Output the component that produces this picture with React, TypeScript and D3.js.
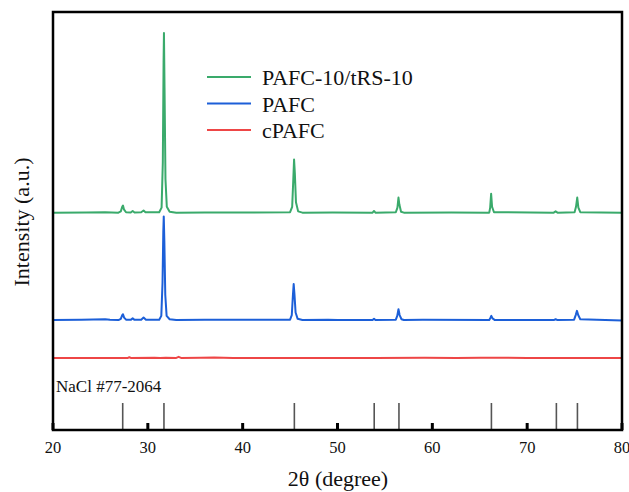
import React from "react";
import * as d3 from "d3";

// XRD patterns, [2theta, intensity above own baseline]
const greenPts: [number, number][] = [
  [20, 0], [23.5, 0.5], [25.5, 0.8], [26.9, 0], [27.15, 3], [27.3, 14], [27.38, 17], [27.48, 8], [27.7, 1],
  [28.2, 0.5], [28.4, 4], [28.6, 0.5], [29.3, 1], [29.55, 5], [29.75, 1], [31.2, 1], [31.45, 12],
  [31.58, 120], [31.66, 360], [31.7, 430], [31.76, 300], [31.86, 80], [32.0, 14], [32.3, 2], [33, 0],
  [36, 0.5], [41, 0.5], [45.0, 1], [45.22, 14], [45.34, 80], [45.42, 127], [45.5, 95], [45.62, 25],
  [45.85, 3], [46.3, 0], [49.5, 0.5], [53.7, 0], [53.85, 4], [54.0, 0], [56.15, 1], [56.32, 12],
  [56.43, 36], [56.52, 20], [56.7, 2], [57, 0], [62, 0.3], [66.0, 0], [66.1, 12], [66.2, 45],
  [66.3, 14], [66.5, 1], [72.8, 0], [73.0, 3], [73.2, 0], [75.0, 1], [75.15, 14], [75.28, 36],
  [75.4, 12], [75.6, 1], [80, 0],
];

const bluePts: [number, number][] = [
  [20, 0], [23, 0.5], [25.5, 2], [26, 0.5], [26.9, 0], [27.15, 3], [27.3, 12], [27.38, 14], [27.5, 6],
  [27.7, 1], [28.2, 0.5], [28.4, 4], [28.6, 0.5], [29.3, 1], [29.55, 6], [29.8, 1], [31.2, 1],
  [31.42, 10], [31.55, 90], [31.63, 210], [31.68, 248], [31.74, 190], [31.84, 60], [31.98, 10],
  [32.3, 2], [33, 0], [36, 0.5], [45.0, 1], [45.18, 12], [45.3, 60], [45.38, 86], [45.46, 62],
  [45.58, 18], [45.8, 3], [46.3, 0], [49, 1], [50, 0], [53.7, 0], [53.85, 3], [54.0, 0],
  [56.15, 1], [56.3, 10], [56.43, 26], [56.55, 12], [56.75, 2], [57, 0], [59, 0.5], [66.0, 0],
  [66.12, 5], [66.22, 10], [66.35, 4], [66.6, 0], [72.8, 0], [73.0, 2], [73.2, 0], [74.95, 1],
  [75.12, 12], [75.25, 22], [75.38, 12], [75.6, 2], [80, -1],
];

const redPts: [number, number][] = [
  [20, 0], [21.4, 0.5], [22, 0.3], [23, 0.5], [25, 0.3], [27.9, 0.3], [28.05, 2], [28.2, 0.3],
  [30.7, 1], [31.3, 0.5], [31.9, 1], [33.0, 0.5], [33.25, 3], [33.5, 0.5], [35.6, 1], [37.0, 1.5],
  [39, 0.5], [45, 0.5], [49, 0.5], [54, 0.3], [59.2, 1], [62.5, 0.5], [65.1, 1], [70, 0.3], [80, 0],
];

const series = [
  { name: "PAFC-10/tRS-10", color: "#3aaa6b", offset: 520, pts: greenPts },
  { name: "PAFC", color: "#1c5fd8", offset: 263, pts: bluePts },
  { name: "cPAFC", color: "#ee4646", offset: 172, pts: redPts },
];

const naclPeaks = [27.35, 31.7, 45.45, 53.87, 56.48, 66.23, 73.08, 75.3];
const xTicks = [20, 30, 40, 50, 60, 70, 80];

export default function App() {
  const width = 629;
  const height = 492;
  const left = 53, right = 622, top = 12, bottom = 430;

  const x = d3.scaleLinear().domain([20, 80]).range([left, right]);
  const y = d3.scaleLinear().domain([0, 1000]).range([bottom, top]);
  const font = "Liberation Serif";

  return (
    <svg width={width} height={height} style={{ position: "absolute", left: 0, top: 0, background: "#fff" }}>
      {series.map((s) => {
        const line = d3
          .line<[number, number]>()
          .x((d) => x(d[0]))
          .y((d) => y(d[1] + s.offset));
        return (
          <path key={s.name} d={line(s.pts) || ""} fill="none" stroke={s.color} strokeWidth={2} strokeLinejoin="round" />
        );
      })}

      {/* reference pattern */}
      {naclPeaks.map((p) => (
        <line key={p} x1={x(p)} x2={x(p)} y1={403} y2={bottom} stroke="#555" strokeWidth={1.6} />
      ))}
      <text x={56} y={392} fontFamily={font} fontSize={17} fill="#111">NaCl #77-2064</text>

      {/* frame */}
      <rect x={left} y={top} width={right - left} height={bottom - top} fill="none" stroke="#000" strokeWidth={2.5} />
      {xTicks.map((t) => (
        <g key={t}>
          <line x1={x(t)} x2={x(t)} y1={bottom} y2={bottom - 7} stroke="#000" strokeWidth={3} />
          <text x={x(t)} y={453} textAnchor="middle" fontFamily={font} fontSize={16.5} fill="#111">{t}</text>
        </g>
      ))}

      <text x={338} y={486} textAnchor="middle" fontFamily={font} fontSize={22} fill="#111">2θ (degree)</text>
      <text
        transform={`translate(29,222) rotate(-90)`}
        textAnchor="middle"
        fontFamily={font}
        fontSize={22}
        fill="#111"
      >
        Intensity (a.u.)
      </text>

      {/* legend */}
      {series.map((s, i) => (
        <g key={s.name} transform={`translate(207,${77 + i * 26.5})`}>
          <line x1={0} x2={44} y1={0} y2={0} stroke={s.color} strokeWidth={2.2} />
          <text x={55} y={8} fontFamily={font} fontSize={22} fill="#111">{s.name}</text>
        </g>
      ))}
    </svg>
  );
}
